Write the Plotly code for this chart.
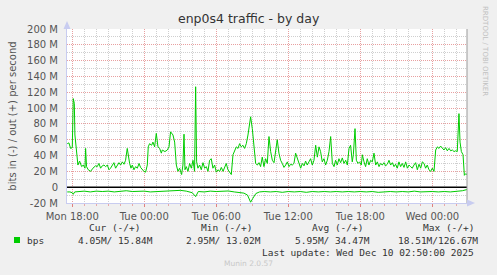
import plotly.graph_objects as go
import pandas as pd

# ---- data (hours after Mon 2025-12-08 18:00, values in Mbit/s) ----
out_hours = [-0.42, -0.28, -0.14, 0.0, 0.08, 0.17, 0.22, 0.33, 0.47, 0.61, 0.78, 0.92, 1.06, 1.11, 1.19,
             1.33, 1.53, 1.72, 1.94, 2.08, 2.22, 2.36, 2.5, 2.64, 2.78, 2.92, 3.06, 3.19, 3.33, 3.47,
             3.61, 3.75, 3.89, 4.03, 4.17, 4.31, 4.44, 4.58, 4.67, 4.78, 4.89, 5.0, 5.14, 5.28, 5.42,
             5.56, 5.69, 5.83, 5.97, 6.11, 6.25, 6.33, 6.44, 6.61, 6.72, 6.86, 7.0, 7.14, 7.28, 7.42,
             7.5, 7.72, 7.92, 8.06, 8.19, 8.39, 8.53, 8.67, 8.81, 8.94, 9.11, 9.22, 9.31, 9.39, 9.5,
             9.64, 9.78, 9.92, 10.06, 10.19, 10.28, 10.36, 10.47, 10.61, 10.75, 10.89, 11.03, 11.17,
             11.31, 11.44, 11.58, 11.72, 11.86, 12.0, 12.14, 12.28, 12.42, 12.56, 12.69, 12.83, 12.97,
             13.11, 13.25, 13.39, 13.53, 13.67, 13.81, 13.94, 14.08, 14.22, 14.36, 14.5, 14.64, 14.78,
             14.86, 15.0, 15.14, 15.28, 15.42, 15.56, 15.69,
             15.83, 15.97, 16.11, 16.25, 16.39, 16.53, 16.67, 16.81, 16.94, 17.08, 17.22, 17.36, 17.5,
             17.64, 17.78, 17.92, 18.06, 18.19, 18.33, 18.47, 18.61, 18.75, 18.89, 19.03, 19.17, 19.31,
             19.44, 19.58, 19.72, 19.86, 20.0, 20.14, 20.28, 20.42, 20.56, 20.69, 20.83, 20.97, 21.11,
             21.25, 21.39, 21.53, 21.67, 21.81, 21.94, 22.08, 22.22, 22.36, 22.5, 22.64, 22.78, 22.92,
             23.06, 23.19, 23.33, 23.42, 23.56, 23.67, 23.81, 23.94, 24.08,
             24.17, 24.31, 24.44, 24.58, 24.72, 24.86, 25.0, 25.14, 25.28, 25.42, 25.56, 25.69, 25.83,
             25.97, 26.11, 26.25, 26.39, 26.53, 26.67, 26.81, 26.94, 27.08, 27.22, 27.36, 27.5, 27.64,
             27.78, 27.92, 28.06, 28.19, 28.33, 28.47, 28.61, 28.75, 28.89, 29.03, 29.17, 29.31, 29.44,
             29.58, 29.72, 29.86, 30.0, 30.14, 30.28, 30.42, 30.56, 30.69, 30.83, 30.97, 31.11, 31.25,
             31.39, 31.53, 31.67, 31.81, 31.94, 32.08, 32.22, 32.31, 32.42, 32.56, 32.67, 32.78, 32.89]
out_mbps = [55, 56, 49, 50, 112, 106, 66, 45, 28, 33, 26, 28, 24, 49, 26,
            22, 20, 24, 27, 26, 30, 24, 27, 28, 26, 28, 22, 24, 28, 31,
            24, 28, 31, 28, 32, 29, 34, 49, 38, 30, 24, 28, 22, 26, 24,
            30, 25, 22, 20, 19, 28, 51, 55, 53, 57, 51, 68, 51, 49, 43,
            47, 45, 47, 51, 70, 66, 57, 28, 20, 24, 16, 28, 67, 22, 26,
            20, 30, 24, 34, 20, 127, 32, 24, 28, 22, 31, 24, 26,
            20, 34, 36, 24, 28, 19, 22, 20, 25, 20, 24, 30, 22,
            19, 16, 41, 47, 51, 49, 55, 51, 53, 49, 55, 66, 78,
            89, 74, 53, 30, 28, 31, 26,
            38, 26, 36, 30, 64, 45, 34, 31, 47, 60, 43, 34, 30,
            25, 28, 32, 26, 29, 28, 30, 43, 36, 28, 24, 30, 27,
            33, 28, 32, 36, 28, 34, 53, 38, 51, 45, 32, 36, 28,
            34, 45, 64, 30, 26, 34, 28, 36, 31, 37, 30, 34, 28,
            49, 53, 32, 41, 74, 34, 30, 32, 28,
            41, 32, 26, 36, 28, 34, 32, 43, 28, 32, 26, 30, 28,
            31, 27, 29, 34, 28, 31, 26, 29, 24, 32, 26, 30, 25,
            32, 24, 28, 26, 24, 28, 31, 22, 29, 24, 32, 30, 24,
            28, 22, 20, 24, 20, 47, 51, 49, 52, 49, 47, 50, 46,
            49, 46, 47, 45, 46, 45, 93, 57, 45, 41, 15, 17, 16]

in_hours = [-0.42, -0.2, 0.0, 0.08, 0.2, 0.5, 1.0, 1.5, 2.0, 2.5, 3.0, 3.5, 4.0, 4.5, 5.0, 5.5, 6.0,
            6.5, 7.0, 7.5, 8.0, 8.5, 9.0, 9.5, 10.0, 10.28, 10.5, 11.0, 11.5, 12.0, 12.5, 13.0,
            13.5, 14.0, 14.3, 14.6, 14.86, 15.05, 15.3, 15.6, 16.0, 16.5, 17.0, 17.5, 18.0, 18.5,
            19.0, 19.5, 20.0, 20.5, 21.0, 21.5, 22.0, 22.5, 23.0, 23.5, 24.0, 24.5, 25.0, 25.5,
            26.0, 26.5, 27.0, 27.5, 28.0, 28.5, 29.0, 29.5, 30.0, 30.5, 31.0, 31.5, 32.0, 32.5, 32.89]
in_mbps = [-6, -6, -7, -9, -6, -5.5, -5, -6, -5, -5.5, -5, -6, -5, -4.5, -5.5, -5, -5,
           -6, -5.5, -5, -5, -4.5, -4, -5, -7, -12, -5.5, -6, -5, -5.5, -5, -4.8,
           -6, -6.5, -7.5, -10, -19, -14, -8, -6, -5.5, -6, -5.5, -6.5, -5.5, -6,
           -5.5, -6.5, -5.5, -6, -5.5, -6, -5.5, -6, -5.5, -6, -5.5, -6, -5.5, -6.5,
           -6, -5.5, -6, -5.5, -6, -5, -6, -5.5, -5.5, -6, -5.5, -6, -5.5, -4.5, -3]

y_ticks = [-20, 0, 20, 40, 60, 80, 100, 120, 140, 160, 180, 200]
y_ticktext = ["-20 M", "0", "20 M", "40 M", "60 M", "80 M", "100 M", "120 M", "140 M",
              "160 M", "180 M", "200 M"]

legend_header = ["Cur (-/+)", "Min (-/+)", "Avg (-/+)", "Max (-/+)"]
legend_values = ["4.05M/\u00a015.84M", "2.95M/\u00a013.02M", "5.95M/\u00a034.47M", "18.51M/126.67M"]

base = pd.Timestamp("2025-12-08 18:00")
t_out = base + pd.to_timedelta(out_hours, unit="h")
t_in = base + pd.to_timedelta(in_hours, unit="h")

W, H = 497, 275
L, R, T, B = 67, 467, 29, 203
GREEN = "#00CC00"


def px(x):
    return (x - L) / (R - L)


def py(y):
    return (B - y) / (B - T)


fig = go.Figure()
fig.add_trace(go.Scatter(x=t_in, y=in_mbps, mode="lines", line=dict(color=GREEN, width=1),
                         showlegend=False, hoverinfo="skip"))
fig.add_trace(go.Scatter(x=t_out, y=out_mbps, mode="lines", line=dict(color=GREEN, width=1),
                         showlegend=False, hoverinfo="skip"))

fig.update_layout(
    width=W, height=H,
    margin=dict(l=L, r=W - R, t=T, b=H - B),
    paper_bgcolor="#F0F0F0", plot_bgcolor="#FFFFFF",
    font=dict(family="DejaVu Sans", size=10, color="#555555"),
    showlegend=False,
)

fig.update_xaxes(
    type="date",
    range=["2025-12-08 17:33:36", "2025-12-10 02:53:24"],
    dtick=6 * 3600 * 1000, tick0="2025-12-08 00:00",
    tickformat="%a %H:%M",
    showgrid=True, gridcolor="#E8A0A0", griddash="1px,1px", gridwidth=1,
    minor=dict(dtick=3600 * 1000, showgrid=True, gridcolor="#CFCFCF", griddash="1px,1px",
               ticks="outside", ticklen=2, tickcolor="#E8A8A8"),
    ticks="outside", ticklen=3, tickcolor="#E08080",
    showline=True, linecolor="#C8CCF0", linewidth=1, mirror=False,
    zeroline=False, tickfont=dict(size=10, color="#555555"),
    ticklabelstandoff=1,
)

fig.update_yaxes(
    range=[-20, 200],
    tickvals=y_ticks, ticktext=y_ticktext,
    showgrid=True, gridcolor="#E8A0A0", griddash="1px,1px", gridwidth=1,
    minor=dict(dtick=10, showgrid=True, gridcolor="#CFCFCF", griddash="1px,1px"),
    showline=True, linecolor="#C8CCF0", linewidth=1,
    zeroline=False, ticks="", tickfont=dict(size=10, color="#555555"),
    ticklabelstandoff=6,
    title=dict(text="bits in (-) / out (+) per second", font=dict(size=10, color="#555555"),
               standoff=8),
)

shapes = []
shapes.append(dict(type="line", xref="paper", yref="y", x0=0, x1=1, y0=0, y1=0,
                   line=dict(color="#000000", width=1.5)))
shapes.append(dict(type="line", xref="paper", yref="paper", x0=1, x1=1, y0=0, y1=1,
                   line=dict(color="#999999", width=1)))
shapes.append(dict(type="path", xref="paper", yref="paper",
                   path=f"M {px(63.5)} {py(29)} L {px(70.5)} {py(29)} L {px(67)} {py(21)} Z",
                   fillcolor="#C8CCF0", line=dict(width=0)))
shapes.append(dict(type="path", xref="paper", yref="paper",
                   path=f"M {px(467)} {py(199.5)} L {px(467)} {py(206.5)} L {px(475)} {py(203)} Z",
                   fillcolor="#C8CCF0", line=dict(width=0)))
shapes.append(dict(type="rect", xref="paper", yref="paper",
                   x0=px(14), x1=px(20), y0=py(243), y1=py(237),
                   fillcolor=GREEN, line=dict(width=0)))
fig.update_layout(shapes=shapes)

ann = []
ann.append(dict(text="enp0s4 traffic - by day", x=px(248.5), y=py(19), xref="paper", yref="paper",
                showarrow=False, xanchor="center", yanchor="middle",
                font=dict(family="DejaVu Sans", size=12.5, color="#333333")))
ann.append(dict(text="RRDTOOL / TOBI OETIKER", x=px(485), y=py(4), xref="paper", yref="paper",
                showarrow=False, xanchor="center", yanchor="top", textangle=90,
                font=dict(family="DejaVu Sans", size=7, color="#C0C0C0")))
MONO = "DejaVu Sans Mono"
MS = 9.5
mono_font = dict(family=MONO, size=MS, color="#333333")
ann.append(dict(text="bps", x=px(26.5), y=py(240), xref="paper", yref="paper", showarrow=False,
                xanchor="left", yanchor="middle", xshift=-2, font=mono_font))
header_x = [89.3, 201, 312.3, 422.7]
value_x = [78.3, 186, 295, 397.7]
for hx, htxt in zip(header_x, legend_header):
    ann.append(dict(text=htxt, x=px(hx), y=py(227), xref="paper", yref="paper", showarrow=False,
                    xanchor="left", yanchor="middle", xshift=-2, font=mono_font))
for vx, vtxt in zip(value_x, legend_values):
    ann.append(dict(text=vtxt, x=px(vx), y=py(240), xref="paper", yref="paper", showarrow=False,
                    xanchor="left", yanchor="middle", xshift=-2, font=mono_font))
ann.append(dict(text="Last update:\u00a0Wed\u00a0Dec\u00a010\u00a002:50:00\u00a02025", x=px(261.7), y=py(252.5),
                xref="paper", yref="paper", showarrow=False, xanchor="left", yanchor="middle",
                xshift=-2, font=mono_font))
ann.append(dict(text="Munin 2.0.57", x=px(248), y=py(263.5), xref="paper", yref="paper",
                showarrow=False, xanchor="center", yanchor="middle",
                font=dict(family="DejaVu Sans", size=7.5, color="#C8C8C8")))
fig.update_layout(annotations=ann)

fig.write_html("out.html")
